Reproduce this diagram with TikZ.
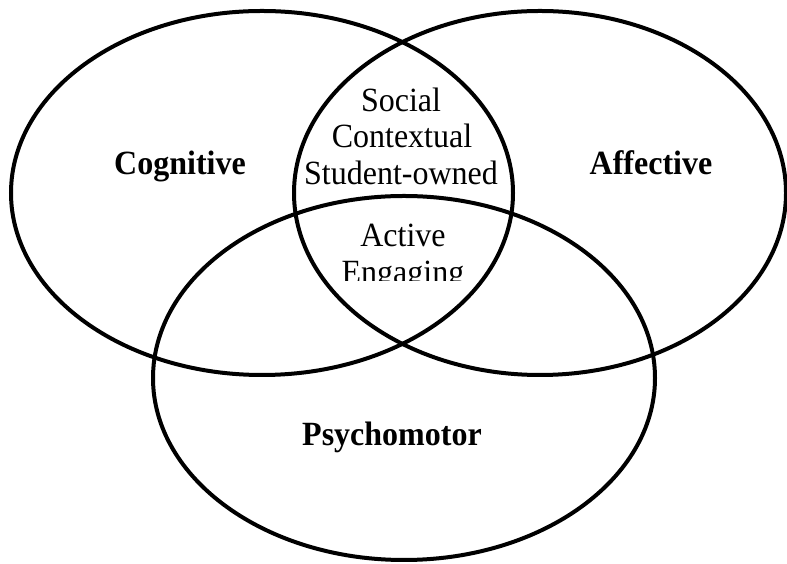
\documentclass[tikz,border=0pt]{standalone}
\usepackage{fontspec}
\setmainfont{Liberation Serif}
\newcommand{\tallish}[1]{\scalebox{1}[1.06]{#1}}
\begin{document}
\begin{tikzpicture}[x=1pt,y=1pt,
  ring/.style={line width=4pt, draw=black},
  areaname/.style={font=\fontsize{32}{37}\selectfont\bfseries, anchor=base, inner sep=0pt},
  trait/.style={font=\fontsize{32}{37}\selectfont, anchor=base, inner sep=0pt}]
\useasboundingbox (0,0) rectangle (787,564);
% the three domains
\draw[ring] (262,371) ellipse [x radius=251, y radius=182];
\draw[ring] (540,371) ellipse [x radius=246, y radius=182];
\draw[ring] (404,186) ellipse [x radius=251, y radius=182];
% domain names
\node[areaname] (cog) at (180,389) {\tallish{Cognitive}};
\node[areaname] (aff) at (651,389) {\tallish{Affective}};
\node[areaname] (psy) at (392,118) {\tallish{Psychomotor}};
% shared traits
\node[trait] (soc) at (401,452) {\tallish{Social}};
\node[trait] (con) at (402,416) {\tallish{Contextual}};
\node[trait] (stu) at (401,379) {\tallish{Student-owned}};
\node[trait] (act) at (403,317) {\tallish{Active}};
\begin{scope}
  \clip (300,283) rectangle (510,310);
  \node[trait] (eng) at (403,280) {\tallish{Engaging}};
\end{scope}
\end{tikzpicture}
\end{document}
